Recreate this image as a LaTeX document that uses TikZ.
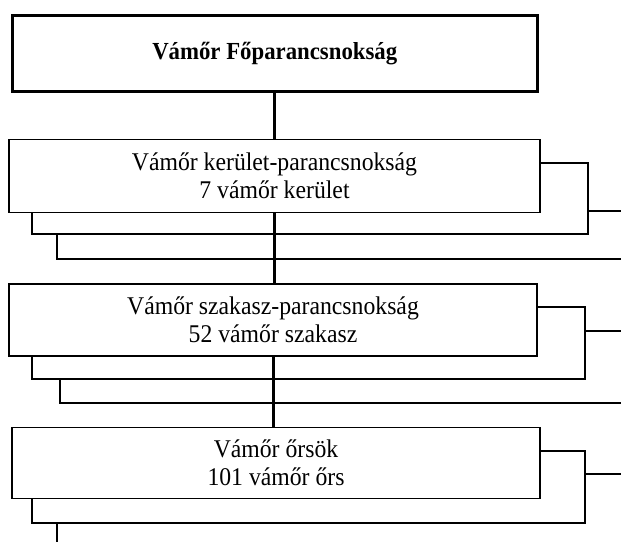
\documentclass[tikz,border=0pt]{standalone}
\usepackage{fontspec}
\setmainfont{Liberation Serif}
\newfontfamily\boxfont[FakeStretch=0.93]{Liberation Serif}

\tikzset{
  headbox/.style={draw, fill=white, line width=3pt, inner sep=0pt,
    font=\boxfont\fontsize{24.5}{28}\selectfont\bfseries},
  unitbox/.style={draw, fill=white, line width=1.5pt, inner sep=0pt,
    align=center, font=\boxfont\fontsize{25.5}{28}\selectfont},
  backbox/.style={draw, fill=white, line width=1.5pt},
  trunk/.style={line width=3pt}
}

\begin{document}
\begin{tikzpicture}[x=1pt, y=-1pt]
  \useasboundingbox (0,0) rectangle (621,541);
  \clip (0,0) rectangle (621,541);

  % stacked boxes behind each level
  \draw[backbox] (57,211) rectangle (650,259);
  \draw[backbox] (32,163) rectangle (588,234);
  \draw[backbox] (60,331) rectangle (650,403);
  \draw[backbox] (32,307) rectangle (585,379);
  \draw[backbox] (57,474) rectangle (650,560);
  \draw[backbox] (32,451) rectangle (585,523);

  \node[headbox, minimum width=524.5pt, minimum height=75.5pt]
    (fo) at (274.75, 53.25) {Vámőr Főparancsnokság};
  \node[unitbox, minimum width=531pt, minimum height=73pt]
    (kerulet) at (274.5, 176)
    {Vámőr kerület-parancsnokság\\7 vámőr kerület};
  \node[unitbox, minimum width=528pt, minimum height=72pt]
    (szakasz) at (273, 320)
    {Vámőr szakasz-parancsnokság\\52 vámőr szakasz};
  \node[unitbox, minimum width=528pt, minimum height=71pt]
    (ors) at (276, 463)
    {Vámőr őrsök\\101 vámőr őrs};

  \draw[trunk] (fo.south) -- (fo.south |- kerulet.north);
  \draw[trunk] (kerulet.south) -- (kerulet.south |- szakasz.north);
  \draw[trunk] (szakasz.south) -- (szakasz.south |- ors.north);

\end{tikzpicture}
\end{document}
